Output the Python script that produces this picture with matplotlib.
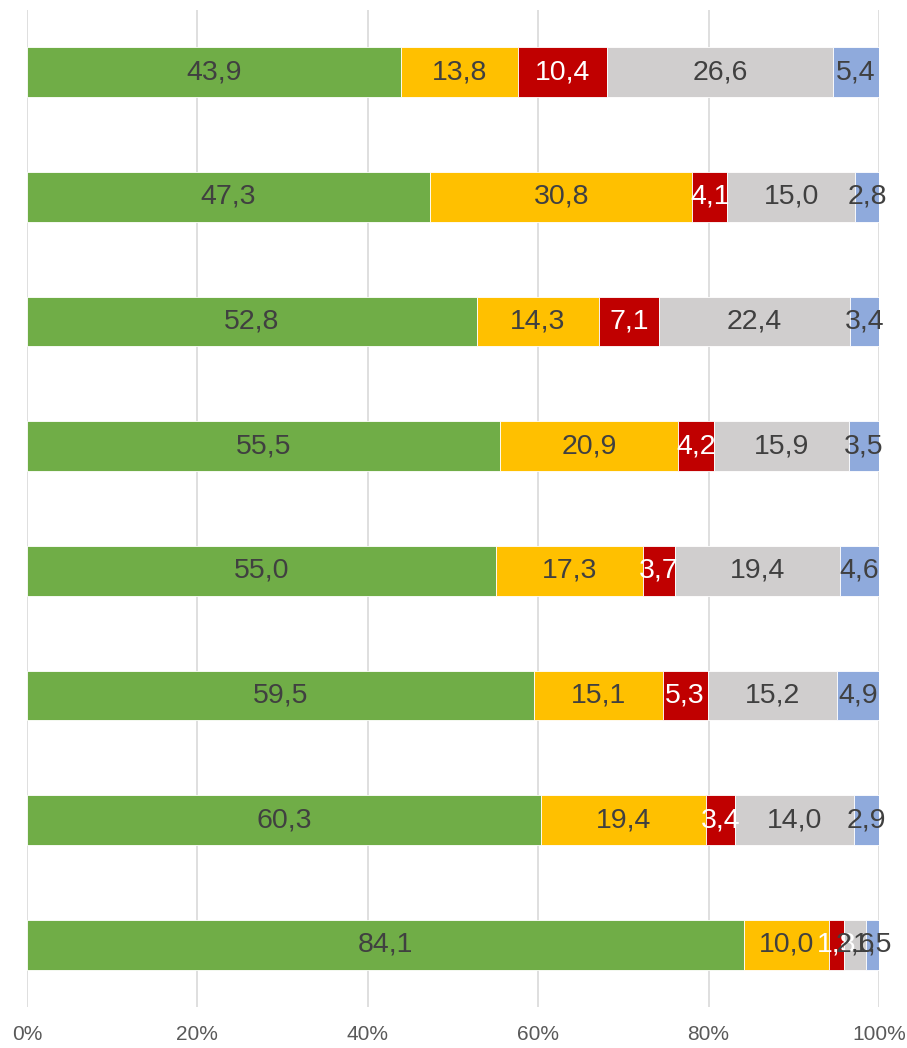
import matplotlib.pyplot as plt
import numpy as np

# one row per bar, top to bottom
green = [43.9, 47.3, 52.8, 55.5, 55.0, 59.5, 60.3, 84.1]
yellow = [13.8, 30.8, 14.3, 20.9, 17.3, 15.1, 19.4, 10.0]
red = [10.4, 4.1, 7.1, 4.2, 3.7, 5.3, 3.4, 1.8]
grey = [26.6, 15.0, 22.4, 15.9, 19.4, 15.2, 14.0, 2.6]
blue = [5.4, 2.8, 3.4, 3.5, 4.6, 4.9, 2.9, 1.5]

series = [green, yellow, red, grey, blue]
colors = ["#70ad47", "#ffc000", "#c00000", "#d0cece", "#8faadc"]
label_colors = ["#404040", "#404040", "white", "#404040", "#404040"]

plt.rcParams['font.family'] = ['Liberation Sans Narrow', 'Liberation Sans', 'DejaVu Sans']

fig = plt.figure(figsize=(9.07, 10.48), dpi=100)
ax = fig.add_axes([27 / 907, 1 - 1007 / 1048, 852 / 907, 997 / 1048])

data = np.array(series)
pct = data / data.sum(axis=0) * 100
y = np.arange(len(green))
left = np.zeros(len(green))
for vals, raw, c, tc in zip(pct, data, colors, label_colors):
    bars = ax.barh(y, vals, left=left, height=0.4, color=c, edgecolor="white", linewidth=0.6, zorder=2)
    labels = [f"{v:.1f}".replace(".", ",") for v in raw]
    ax.bar_label(bars, labels=labels, label_type="center", color=tc, fontsize=20.5)
    left += vals

ax.set_ylim(len(green) - 0.5, -0.5)
ax.set_xlim(0, 100)
ax.set_xticks(np.arange(0, 101, 20))
ax.set_xticklabels([f"{t}%" for t in range(0, 101, 20)], color="#595959", fontsize=15)
ax.tick_params(axis="x", length=0, pad=13)
ax.set_yticks([])
ax.grid(axis="x", color="#d9d9d9", linewidth=1.2, zorder=0)
for s in ax.spines.values():
    s.set_visible(False)

fig.savefig("out.png", dpi=100)
